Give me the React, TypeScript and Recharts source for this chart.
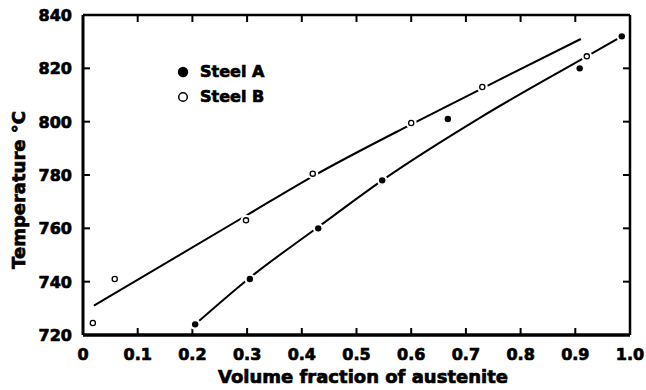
import React from 'react';
import { ComposedChart, Line, Scatter, XAxis, YAxis, Legend, Label, ReferenceLine } from 'recharts';

// measured points
const steelA = [
  { x: 0.205, y: 724 },
  { x: 0.305, y: 741 },
  { x: 0.43, y: 760 },
  { x: 0.547, y: 778 },
  { x: 0.667, y: 801 },
  { x: 0.908, y: 820 },
  { x: 0.985, y: 832 },
];

const steelB = [
  { x: 0.018, y: 724.5 },
  { x: 0.058, y: 741 },
  { x: 0.298, y: 763 },
  { x: 0.42, y: 780.5 },
  { x: 0.6, y: 799.5 },
  { x: 0.73, y: 813 },
  { x: 0.921, y: 824.5 },
];

// hand-drawn fit curves
const fitA = [
  { x: 0.205, y: 724 },
  { x: 0.305, y: 741.5 },
  { x: 0.43, y: 760.5 },
  { x: 0.547, y: 778 },
  { x: 0.73, y: 802 },
  { x: 0.921, y: 824.5 },
  { x: 0.985, y: 832 },
];

const fitB = [
  { x: 0.02, y: 731 },
  { x: 0.3, y: 765 },
  { x: 0.42, y: 779.5 },
  { x: 0.6, y: 799 },
  { x: 0.73, y: 812.5 },
  { x: 0.91, y: 831 },
];

const xTicks = [0, 0.1, 0.2, 0.3, 0.4, 0.5, 0.6, 0.7, 0.8, 0.9, 1.0];
const xLabels = ['0', '0.1', '0.2', '0.3', '0.4', '0.5', '0.6', '0.7', '0.8', '0.9', '1.0'];
const yTicks = [720, 740, 760, 780, 800, 820, 840];

const X_MIN = 0, X_MAX = 1, Y_MIN = 720, Y_MAX = 840;
const PLOT_W = 547, PLOT_H = 320, TICK_LEN = 7;
// inward tick length in data units
const dx = (TICK_LEN / PLOT_W) * (X_MAX - X_MIN);
const dy = (TICK_LEN / PLOT_H) * (Y_MAX - Y_MIN);
const innerX = xTicks.slice(1, -1);
const innerY = yTicks.slice(1, -1);

const font = { fontFamily: '"DejaVu Sans", sans-serif', fontWeight: 'bold' as const };
const heavy = { stroke: '#000', strokeWidth: 0.7 };

const BottomTick = (props: any) => {
  const { x, y, index } = props;
  return (
    <text x={x} y={y + 25} textAnchor="middle" fontSize={16} fill="#000" {...heavy} style={font}>
      {xLabels[index]}
    </text>
  );
};

const LeftTick = (props: any) => {
  const { x, y, payload } = props;
  return (
    <text x={x - 11} y={y + 6} textAnchor="end" fontSize={16} fill="#000" {...heavy} style={font}>
      {payload.value}
    </text>
  );
};

const NoLabel = () => <g />;

const FilledDot = (props: any) => (
  <g>
    <circle cx={props.cx} cy={props.cy} r={5.5} fill="#fff" />
    <circle cx={props.cx} cy={props.cy} r={3.2} fill="#000" />
  </g>
);

const OpenDot = (props: any) => (
  <g>
    <circle cx={props.cx} cy={props.cy} r={5.5} fill="#fff" />
    <circle cx={props.cx} cy={props.cy} r={2.6} fill="#fff" stroke="#000" strokeWidth={1.3} />
  </g>
);

const LegendBox = () => (
  <div style={{ ...font, fontSize: 16, color: '#000', WebkitTextStroke: '0.7px #000' }}>
    <div style={{ display: 'flex', alignItems: 'center', height: 20 }}>
      <svg width={12} height={12}>
        <circle cx={6} cy={6} r={5.2} fill="#000" />
      </svg>
      <span style={{ marginLeft: 11, lineHeight: '20px' }}>Steel A</span>
    </div>
    <div style={{ display: 'flex', alignItems: 'center', height: 20, marginTop: 5 }}>
      <svg width={12} height={12}>
        <circle cx={6} cy={6} r={4.3} fill="#fff" stroke="#000" strokeWidth={1.5} />
      </svg>
      <span style={{ marginLeft: 11, lineHeight: '20px' }}>Steel B</span>
    </div>
  </div>
);

export default function App() {
  return (
    <div style={{ position: 'absolute', left: 0, top: 0, background: '#fff' }}>
      <ComposedChart width={646} height={390} margin={{ top: 14, right: 15, bottom: 15, left: 13 }}>
        <XAxis
          xAxisId="b"
          dataKey="x"
          type="number"
          domain={[X_MIN, X_MAX]}
          ticks={xTicks}
          interval={0}
          height={40}
          tickSize={0}
          tickMargin={0}
          tick={<BottomTick />}
          tickLine={false}
          axisLine={{ stroke: '#000', strokeWidth: 3.5 }}
        >
          <Label
            content={() => (
              <text x={363} y={383} textAnchor="middle" fontSize={18} fill="#000" {...heavy} style={font}>
                Volume fraction of austenite
              </text>
            )}
          />
        </XAxis>
        <XAxis
          xAxisId="t"
          orientation="top"
          dataKey="x"
          type="number"
          domain={[X_MIN, X_MAX]}
          ticks={xTicks}
          height={1}
          tickSize={0}
          tick={<NoLabel />}
          tickLine={false}
          axisLine={{ stroke: '#000', strokeWidth: 2.5 }}
        />
        <YAxis
          yAxisId="l"
          dataKey="y"
          type="number"
          domain={[Y_MIN, Y_MAX]}
          ticks={yTicks}
          interval={0}
          width={70}
          tickSize={0}
          tickMargin={0}
          tick={<LeftTick />}
          tickLine={false}
          axisLine={{ stroke: '#000', strokeWidth: 3 }}
        >
          <Label
            content={() => (
              <text
                x={25}
                y={190}
                transform="rotate(-90 25 190)"
                textAnchor="middle"
                fontSize={18}
                fill="#000"
                {...heavy}
                style={font}
              >
                Temperature °C
              </text>
            )}
          />
        </YAxis>
        <YAxis
          yAxisId="r"
          orientation="right"
          dataKey="y"
          type="number"
          domain={[Y_MIN, Y_MAX]}
          ticks={yTicks}
          width={1}
          tickSize={0}
          tick={<NoLabel />}
          tickLine={false}
          axisLine={{ stroke: '#000', strokeWidth: 2.5 }}
        />
        <Legend
          layout="vertical"
          align="center"
          verticalAlign="middle"
          content={<LegendBox />}
          wrapperStyle={{ position: 'absolute', left: 177, top: 62, width: 120 }}
        />
        {innerX.map((t) => (
          <ReferenceLine
            key={'xb' + t}
            xAxisId="b"
            yAxisId="l"
            segment={[{ x: t, y: Y_MIN }, { x: t, y: Y_MIN + dy }]}
            stroke="#000"
            strokeWidth={2}
          />
        ))}
        {innerX.map((t) => (
          <ReferenceLine
            key={'xt' + t}
            xAxisId="b"
            yAxisId="l"
            segment={[{ x: t, y: Y_MAX }, { x: t, y: Y_MAX - dy }]}
            stroke="#000"
            strokeWidth={2}
          />
        ))}
        {innerY.map((t) => (
          <ReferenceLine
            key={'yl' + t}
            xAxisId="b"
            yAxisId="l"
            segment={[{ x: X_MIN, y: t }, { x: X_MIN + dx, y: t }]}
            stroke="#000"
            strokeWidth={2}
          />
        ))}
        {innerY.map((t) => (
          <ReferenceLine
            key={'yr' + t}
            xAxisId="b"
            yAxisId="l"
            segment={[{ x: X_MAX, y: t }, { x: X_MAX - dx, y: t }]}
            stroke="#000"
            strokeWidth={2}
          />
        ))}
        <Line
          xAxisId="b"
          yAxisId="l"
          data={fitA}
          dataKey="y"
          type="monotone"
          stroke="#000"
          strokeWidth={2}
          dot={false}
          activeDot={false}
          legendType="none"
          isAnimationActive={false}
        />
        <Line
          xAxisId="b"
          yAxisId="l"
          data={fitB}
          dataKey="y"
          type="monotone"
          stroke="#000"
          strokeWidth={2}
          dot={false}
          activeDot={false}
          legendType="none"
          isAnimationActive={false}
        />
        <Scatter
          xAxisId="b"
          yAxisId="l"
          name="Steel A"
          data={steelA}
          dataKey="y"
          shape={<FilledDot />}
          isAnimationActive={false}
        />
        <Scatter
          xAxisId="b"
          yAxisId="l"
          name="Steel B"
          data={steelB}
          dataKey="y"
          shape={<OpenDot />}
          isAnimationActive={false}
        />
      </ComposedChart>
    </div>
  );
}
